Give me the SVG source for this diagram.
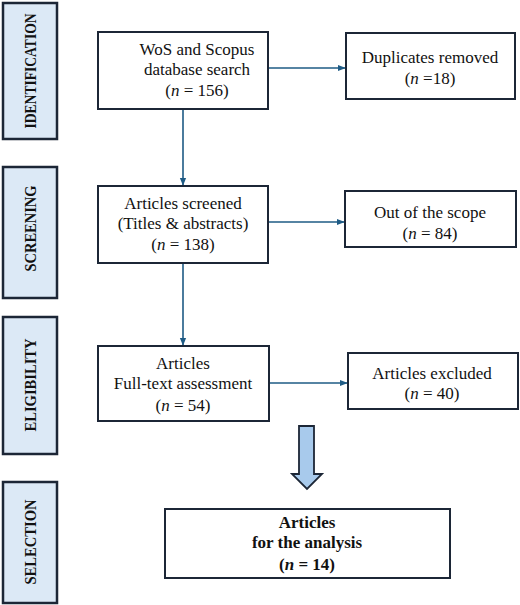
<svg xmlns="http://www.w3.org/2000/svg" width="520" height="605" viewBox="0 0 520 605">
<defs>
<style>
.side{fill:#dce9f6;stroke:#1c2636;stroke-width:2.5}
.box{fill:#ffffff;stroke:#1c2636;stroke-width:2}
.t{font-family:'Liberation Serif','DejaVu Serif',serif;font-size:17px;fill:#111;text-anchor:middle}
.b{font-weight:bold}
.lab{font-family:'Liberation Serif','DejaVu Serif',serif;font-size:14px;font-weight:bold;fill:#111;text-anchor:middle}
.con{stroke:#1e5b85;stroke-width:1.6;fill:none;marker-end:url(#ah)}
</style>
<marker id="ah" viewBox="0 0 10 10" refX="9" refY="5" markerWidth="5" markerHeight="5" orient="auto" markerUnits="strokeWidth">
<path d="M0,1 L10,5 L0,9 z" fill="#1e5b85"/>
</marker>
</defs>
<rect width="520" height="605" fill="#ffffff"/>

<g id="phase-identification">
<rect class="side" x="3" y="3" width="54" height="136"/>
<text class="lab" x="0" y="0" transform="translate(36,71) rotate(-90) scale(1,1.18)" textLength="115" lengthAdjust="spacingAndGlyphs">IDENTIFICATION</text>
</g>
<g id="phase-screening">
<rect class="side" x="3" y="167" width="54" height="131"/>
<text class="lab" x="0" y="0" transform="translate(36,228.5) rotate(-90) scale(1,1.18)" textLength="86" lengthAdjust="spacingAndGlyphs">SCREENING</text>
</g>
<g id="phase-eligibility">
<rect class="side" x="3" y="317" width="54" height="137"/>
<text class="lab" x="0" y="0" transform="translate(36,385) rotate(-90) scale(1,1.18)" textLength="93" lengthAdjust="spacingAndGlyphs">ELIGIBILITY</text>
</g>
<g id="phase-selection">
<rect class="side" x="3" y="482" width="54" height="121"/>
<text class="lab" x="0" y="0" transform="translate(36,542) rotate(-90) scale(1,1.18)" textLength="85" lengthAdjust="spacingAndGlyphs">SELECTION</text>
</g>

<g id="connectors">
<line class="con" x1="183" y1="109" x2="183" y2="185"/>
<line class="con" x1="183" y1="263" x2="183" y2="345"/>
<line class="con" x1="268" y1="68" x2="345" y2="68"/>
<line class="con" x1="268" y1="222" x2="344" y2="222"/>
<line class="con" x1="269" y1="383" x2="347" y2="383"/>
<path id="big-arrow" d="M299,426 L314,426 L314,474 L322,474 L307,489 L292,474 L299,474 Z" fill="#a8caec" stroke="#1c2636" stroke-width="1.8" stroke-linejoin="miter"/>
</g>

<g id="node-search">
<rect class="box" x="98" y="32" width="170" height="77"/>
<text class="t" x="197" y="55">WoS and Scopus</text>
<text class="t" x="197" y="75">database search</text>
<text class="t" x="197" y="96">(<tspan font-style="italic">n</tspan> = 156)</text>
</g>
<g id="node-duplicates">
<rect class="box" x="346" y="33" width="169" height="66"/>
<text class="t" x="430" y="63">Duplicates removed</text>
<text class="t" x="430" y="84">(<tspan font-style="italic">n</tspan> =18)</text>
</g>
<g id="node-screened">
<rect class="box" x="98" y="186" width="170" height="77"/>
<text class="t" x="183" y="209">Articles screened</text>
<text class="t" x="183" y="229">(Titles &amp; abstracts)</text>
<text class="t" x="183" y="250">(<tspan font-style="italic">n</tspan> = 138)</text>
</g>
<g id="node-scope">
<rect class="box" x="345" y="191" width="171" height="56"/>
<text class="t" x="430" y="218">Out of the scope</text>
<text class="t" x="430" y="239">(<tspan font-style="italic">n</tspan> = 84)</text>
</g>
<g id="node-fulltext">
<rect class="box" x="98" y="346" width="171" height="75"/>
<text class="t" x="183" y="369">Articles</text>
<text class="t" x="183" y="389">Full-text assessment</text>
<text class="t" x="183" y="411">(<tspan font-style="italic">n</tspan> = 54)</text>
</g>
<g id="node-excluded">
<rect class="box" x="348" y="353" width="170" height="56"/>
<text class="t" x="432" y="379">Articles excluded</text>
<text class="t" x="432" y="399">(<tspan font-style="italic">n</tspan> = 40)</text>
</g>
<g id="node-analysis">
<rect class="box" x="165" y="509" width="285" height="69"/>
<text class="t b" x="307" y="528">Articles</text>
<text class="t b" x="307" y="548">for the analysis</text>
<text class="t b" x="307" y="570">(<tspan font-style="italic">n</tspan> = 14)</text>
</g>
</svg>
